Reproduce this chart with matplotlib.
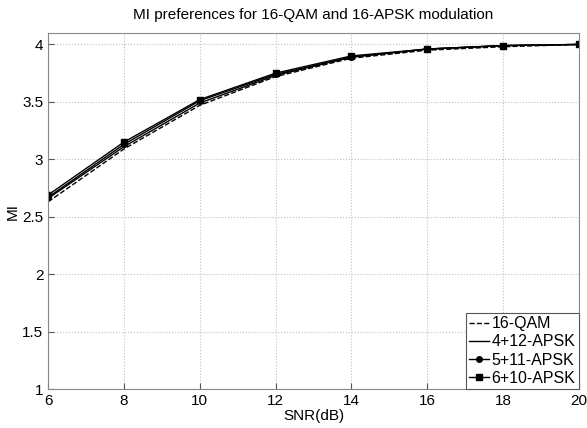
import matplotlib
matplotlib.use('agg')
import matplotlib.pyplot as plt

plt.rcParams['font.family'] = ['Liberation Sans', 'DejaVu Sans']

snr = [6, 8, 10, 12, 14, 16, 18, 20]
mi_qam16 = [2.63, 3.09, 3.47, 3.72, 3.88, 3.95, 3.98, 4.00]
mi_apsk412 = [2.66, 3.11, 3.49, 3.73, 3.89, 3.96, 3.99, 4.00]
mi_apsk511 = [2.67, 3.13, 3.51, 3.74, 3.89, 3.96, 3.99, 4.00]
mi_apsk610 = [2.69, 3.15, 3.52, 3.75, 3.90, 3.96, 3.99, 4.00]

fig = plt.figure(figsize=(5.87, 4.28), dpi=100)
ax = fig.add_axes([0.082, 0.091, 0.904, 0.832])

ax.plot(snr, mi_qam16, color='black', linestyle='--', linewidth=1.0, label='16-QAM')
ax.plot(snr, mi_apsk412, color='black', linestyle='-', linewidth=1.0, label='4+12-APSK')
ax.plot(snr, mi_apsk511, color='black', linestyle='-', linewidth=1.0, marker='o', markersize=4, label='5+11-APSK')
ax.plot(snr, mi_apsk610, color='black', linestyle='-', linewidth=1.0, marker='s', markersize=4, label='6+10-APSK')

ax.set_xlim(6, 20)
ax.set_ylim(1, 4.1)
ax.set_xticks([6, 8, 10, 12, 14, 16, 18, 20])
ax.set_yticks([1, 1.5, 2, 2.5, 3, 3.5, 4])
ax.set_yticklabels(['1', '1.5', '2', '2.5', '3', '3.5', '4'])
ax.tick_params(direction='in', labelsize=11, length=4, color='#555555')
ax.grid(True, linestyle=':', color='#c0c0c0', linewidth=0.8)
for s in ax.spines.values():
    s.set_color('#888888')
ax.set_xlabel('SNR(dB)', fontsize=11, labelpad=1)
ax.set_ylabel('MI', fontsize=11, labelpad=2)
ax.set_title('MI preferences for 16-QAM and 16-APSK modulation', fontsize=11, pad=10)

leg = ax.legend(loc='lower right', fontsize=11.5, fancybox=False, framealpha=1,
                edgecolor='#555555', borderpad=0.2, labelspacing=0.2,
                handlelength=1.2, handletextpad=0.2, borderaxespad=0.0)
leg.get_frame().set_linewidth(0.8)

fig.savefig('out.png', dpi=100)
